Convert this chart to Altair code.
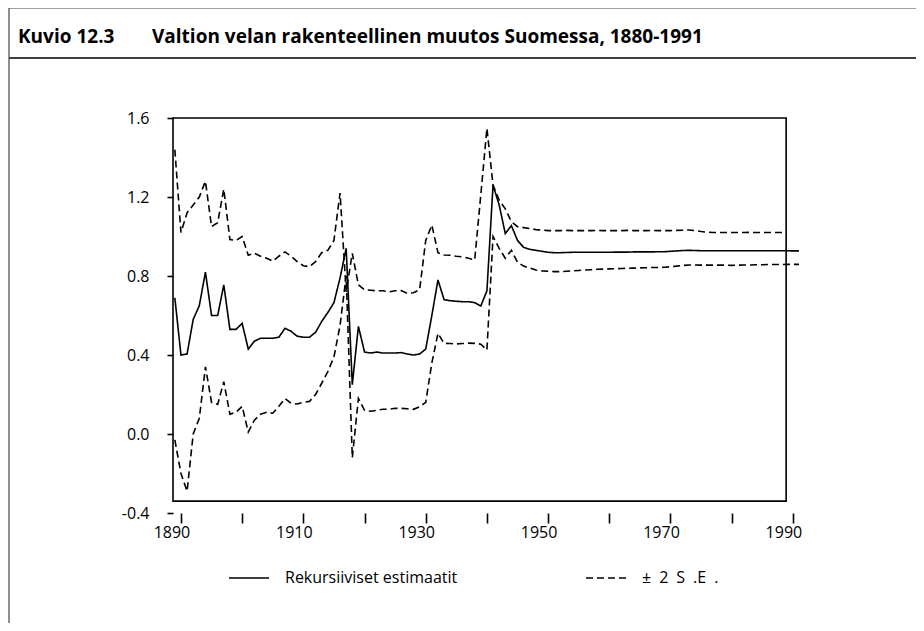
import altair as alt
import pandas as pd

# ---------------- data ----------------
YEARS = list(range(1889, 1992))  # 1889 ... 1991

# Recursive estimates (solid line), 1889-1991
ESTIMATE = [
    0.69,                                                          # 1889
    0.40, 0.405, 0.58, 0.65, 0.82, 0.60, 0.60, 0.755, 0.53, 0.53,  # 1890-1899
    0.56, 0.43, 0.47, 0.485, 0.485, 0.485, 0.49, 0.535, 0.52, 0.495,  # 1900-1909
    0.49, 0.49, 0.515, 0.57, 0.615, 0.665, 0.79, 0.94, 0.25, 0.545,  # 1910-1919
    0.415, 0.41, 0.415, 0.41, 0.41, 0.41, 0.412, 0.405, 0.40, 0.405,  # 1920-1929
    0.43, 0.60, 0.78, 0.68, 0.675, 0.672, 0.67, 0.67, 0.665, 0.648,  # 1930-1939
    0.725, 1.26, 1.16, 1.015, 1.055, 0.98, 0.945, 0.935, 0.93, 0.925,  # 1940-1949
    0.92, 0.918, 0.918, 0.919, 0.92, 0.92, 0.92, 0.92, 0.92, 0.92,  # 1950-1959
    0.92, 0.921, 0.921, 0.921, 0.922, 0.922, 0.922, 0.922, 0.923, 0.923,  # 1960-1969
    0.925, 0.927, 0.929, 0.93, 0.929, 0.928, 0.928, 0.928, 0.928, 0.928,  # 1970-1979
    0.928, 0.928, 0.928, 0.928, 0.928, 0.928, 0.928, 0.928, 0.928, 0.928,  # 1980-1989
    0.927, 0.927,                                                  # 1990-1991
]

# + 2 S.E. band (upper dashed line), 1889-1989
UPPER = [
    1.44,                                                          # 1889
    1.02, 1.12, 1.16, 1.20, 1.28, 1.05, 1.07, 1.24, 0.985, 0.98,   # 1890-1899
    1.00, 0.905, 0.915, 0.90, 0.89, 0.875, 0.90, 0.922, 0.90, 0.873,  # 1900-1909
    0.852, 0.847, 0.873, 0.918, 0.93, 0.98, 1.22, 0.72, 0.915, 0.755,  # 1910-1919
    0.73, 0.728, 0.725, 0.725, 0.72, 0.725, 0.726, 0.712, 0.715, 0.73,  # 1920-1929
    0.98, 1.058, 0.918, 0.906, 0.905, 0.90, 0.897, 0.89, 0.881, 1.21,  # 1930-1939
    1.548, 1.26, 1.185, 1.14, 1.075, 1.05, 1.045, 1.04, 1.035, 1.033,  # 1940-1949
    1.03, 1.03, 1.03, 1.031, 1.03, 1.03, 1.03, 1.03, 1.031, 1.03,  # 1950-1959
    1.03, 1.03, 1.03, 1.031, 1.03, 1.03, 1.03, 1.031, 1.03, 1.03,  # 1960-1969
    1.03, 1.031, 1.032, 1.033, 1.03, 1.025, 1.022, 1.02, 1.02, 1.02,  # 1970-1979
    1.02, 1.02, 1.02, 1.021, 1.02, 1.02, 1.02, 1.02, 1.02, 1.02,   # 1980-1989
]

# - 2 S.E. band (lower dashed line), 1889-1991
LOWER = [
    -0.03,                                                         # 1889
    -0.20, -0.29, 0.0, 0.08, 0.34, 0.16, 0.15, 0.265, 0.10, 0.11,  # 1890-1899
    0.14, 0.01, 0.07, 0.10, 0.11, 0.105, 0.14, 0.18, 0.155, 0.152,  # 1900-1909
    0.16, 0.165, 0.20, 0.257, 0.316, 0.39, 0.55, 0.80, -0.12, 0.18,  # 1910-1919
    0.12, 0.115, 0.12, 0.125, 0.125, 0.13, 0.13, 0.128, 0.125, 0.138,  # 1920-1929
    0.16, 0.36, 0.51, 0.459, 0.458, 0.456, 0.458, 0.46, 0.459, 0.455,  # 1930-1939
    0.425, 1.0, 0.94, 0.89, 0.93, 0.87, 0.85, 0.84, 0.83, 0.826,   # 1940-1949
    0.824, 0.822, 0.822, 0.824, 0.826, 0.828, 0.83, 0.832, 0.834, 0.835,  # 1950-1959
    0.836, 0.837, 0.838, 0.839, 0.84, 0.841, 0.842, 0.843, 0.843, 0.844,  # 1960-1969
    0.847, 0.85, 0.853, 0.856, 0.856, 0.855, 0.855, 0.855, 0.855, 0.855,  # 1970-1979
    0.854, 0.855, 0.856, 0.856, 0.857, 0.857, 0.858, 0.858, 0.858, 0.859,  # 1980-1989
    0.859, 0.859,                                                  # 1990-1991
]

Y_TICKS = [-0.4, 0.0, 0.4, 0.8, 1.2, 1.6]
X_TICKS = list(range(1890, 1991, 10))
X_LABEL_YEARS = [1890, 1910, 1930, 1950, 1970, 1990]

FIG_NO = "Kuvio 12.3"
FIG_TITLE = "Valtion velan rakenteellinen muutos Suomessa, 1880-1991"
LEG_EST = "Rekursiiviset estimaatit"
LEG_SE = "±\u20022\u2002S\u2002.E\u2002."   # "± 2 S .E ." with the wide spacing of the original

assert len(ESTIMATE) == len(YEARS)
assert len(LOWER) == len(YEARS)
assert len(UPPER) == 101

rows = []
for yr, v in zip(YEARS, ESTIMATE):
    rows.append({"year": yr, "value": v, "line": "estimate", "kind": LEG_EST})
for yr, v in zip(YEARS, UPPER):
    rows.append({"year": yr, "value": v, "line": "upper", "kind": LEG_SE})
for yr, v in zip(YEARS, LOWER):
    rows.append({"year": yr, "value": v, "line": "lower", "kind": LEG_SE})
df = pd.DataFrame(rows)

xlab_df = pd.DataFrame({"year": X_LABEL_YEARS, "label": [str(y) for y in X_LABEL_YEARS]})

# ---------------- layout ----------------
FONT = "Open Sans"
X_DOMAIN = [1888.7, 1991]
Y_DOMAIN = [-0.4, 1.6]
FRAME_X = [1888.7, 1988.9]
FRAME_Y = [-0.34, 1.6]

x_scale = alt.Scale(domain=X_DOMAIN, nice=False, zero=False)
y_scale = alt.Scale(domain=Y_DOMAIN, nice=False, zero=False)

x_axis = alt.Axis(
    values=X_TICKS, labels=False,
    title=None, domain=False, grid=False,
    tickSize=10, tickWidth=1.6, tickColor="black",
)
y_axis = alt.Axis(
    values=Y_TICKS,
    labelExpr="datum.value < 0 ? '-' + format(-datum.value, '.1f') : format(datum.value, '.1f')",
    title=None, domain=False, grid=False,
    tickSize=6, tickWidth=1.6, tickColor="black",
    labelFont=FONT, labelFontSize=16, labelColor="black",
    labelPadding=18, labelFlush=False, labelOverlap=False,
)

one = pd.DataFrame({"k": [0]})

frame = alt.Chart(one).mark_rect(
    fillOpacity=0, stroke="black", strokeWidth=1.6, clip=False
).encode(
    x=alt.XDatum(FRAME_X[0], type="quantitative", scale=x_scale, axis=x_axis),
    x2=alt.X2Datum(FRAME_X[1]),
    y=alt.YDatum(FRAME_Y[0], type="quantitative", scale=y_scale, axis=y_axis),
    y2=alt.Y2Datum(FRAME_Y[1]),
)

lines = alt.Chart(df).mark_line(color="black", strokeWidth=1.6, clip=False).encode(
    x=alt.X("year:Q", scale=x_scale, axis=x_axis),
    y=alt.Y("value:Q", scale=y_scale, axis=y_axis),
    strokeDash=alt.StrokeDash(
        "kind:N",
        scale=alt.Scale(domain=[LEG_EST, LEG_SE], range=[[1, 0], [7, 4]]),
        legend=alt.Legend(
            title=None, orient="none", legendX=55, legendY=439,
            direction="horizontal", symbolType="stroke", symbolSize=1600,
            symbolStrokeWidth=1.5, symbolStrokeColor="black",
            labelFont=FONT, labelFontSize=16, labelColor="black",
            labelOffset=15, columnPadding=125, padding=0, labelLimit=400,
        ),
    ),
    detail="line:N",
    order="year:Q",
)

x_labels = alt.Chart(xlab_df).mark_text(
    align="center", baseline="top", dx=-9, font=FONT, fontSize=16,
    color="black", clip=False
).encode(
    x=alt.X("year:Q", scale=x_scale, axis=x_axis),
    y=alt.value(407),
    text="label:N",
)

top_line = alt.Chart(one).mark_rule(color="#444444", strokeWidth=1.2, clip=False).encode(
    x=alt.value(-164), x2=alt.value(743), y=alt.value(-110)
)
sep_line = alt.Chart(one).mark_rule(color="black", strokeWidth=1.6, clip=False).encode(
    x=alt.value(-164), x2=alt.value(743), y=alt.value(-60)
)
left_line = alt.Chart(one).mark_rule(color="#444444", strokeWidth=1.2, clip=False).encode(
    x=alt.value(-164), y=alt.value(-110), y2=alt.value(505)
)
fig_no = alt.Chart(one).mark_text(
    align="left", baseline="alphabetic", font=FONT, fontSize=19,
    fontWeight="bold", color="black", clip=False
).encode(x=alt.value(-155), y=alt.value(-75), text=alt.value(FIG_NO))
fig_title = alt.Chart(one).mark_text(
    align="left", baseline="alphabetic", font=FONT, fontSize=19,
    fontWeight="bold", color="black", clip=False
).encode(x=alt.value(-21), y=alt.value(-75), text=alt.value(FIG_TITLE))

chart = alt.layer(
    frame, lines, x_labels, top_line, sep_line, left_line, fig_no, fig_title
).properties(
    width=626, height=395,
    autosize=alt.AutoSizeParams(type="none"),
    padding={"left": 165, "top": 110, "right": 117, "bottom": 110},
).configure_view(stroke=None)

chart.save("out.html", embed_options={"renderer": "svg", "actions": False})
